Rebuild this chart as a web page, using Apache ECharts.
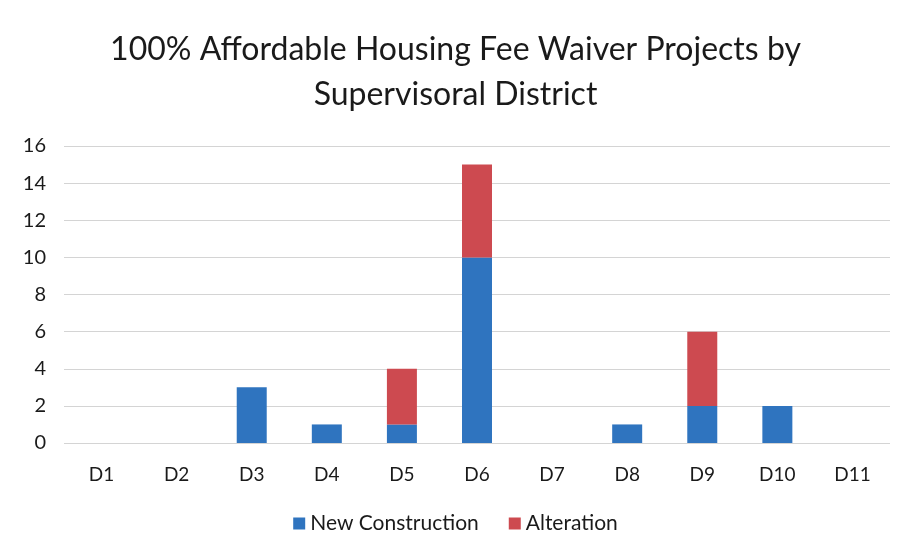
<!DOCTYPE html>
<html>
<head>
<meta charset="utf-8">
<script src="https://cdn.jsdelivr.net/npm/echarts@6/dist/echarts.min.js"></script>
<style>
  html, body { margin: 0; padding: 0; background: #fff; }
  #chart { width: 911px; height: 557px; }
</style>
</head>
<body>
<div id="chart"></div>
<script>
const districts = ['D1', 'D2', 'D3', 'D4', 'D5', 'D6', 'D7', 'D8', 'D9', 'D10', 'D11']
const newConstruction = [0, 0, 3, 1, 1, 10, 0, 1, 2, 2, 0]
const alteration = [0, 0, 0, 0, 3, 5, 0, 0, 4, 0, 0]

const font = 'Lato, "Open Sans", sans-serif'
const myChart = echarts.init(document.getElementById('chart'))
myChart.setOption({
    animation: false,
    title: {
        text: '100% Affordable Housing Fee Waiver Projects by\nSupervisoral District',
        left: 'center',
        top: 22,
        textStyle: { fontFamily: font, fontSize: 32, fontWeight: 'normal', color: '#1a1a1a', lineHeight: 45 }
    },
    legend: {
        bottom: 18,
        left: 'center',
        itemWidth: 12,
        itemHeight: 12,
        itemGap: 30,
        icon: 'rect',
        textStyle: { fontFamily: font, fontSize: 21, color: '#1a1a1a' },
        data: ['New Construction', 'Alteration']
    },
    grid: { left: 64, right: 21, top: 146, bottom: 114 },
    xAxis: {
        type: 'category',
        data: districts,
        axisLine: { show: false },
        axisTick: { show: false },
        axisLabel: { fontFamily: font, fontSize: 19, color: '#1a1a1a', margin: 22 }
    },
    yAxis: {
        type: 'value',
        min: 0,
        max: 16,
        interval: 2,
        axisLabel: { fontFamily: font, fontSize: 20, color: '#1a1a1a', margin: 18 },
        splitLine: { lineStyle: { color: '#d4d4d4', width: 1 } }
    },
    series: [
        {
            name: 'New Construction',
            type: 'bar',
            stack: 'total',
            barWidth: 30,
            data: newConstruction,
            itemStyle: { color: '#2f74bf' }
        },
        {
            name: 'Alteration',
            type: 'bar',
            stack: 'total',
            barWidth: 30,
            data: alteration,
            itemStyle: { color: '#cd4a50' }
        }
    ]
})
</script>
</body>
</html>
